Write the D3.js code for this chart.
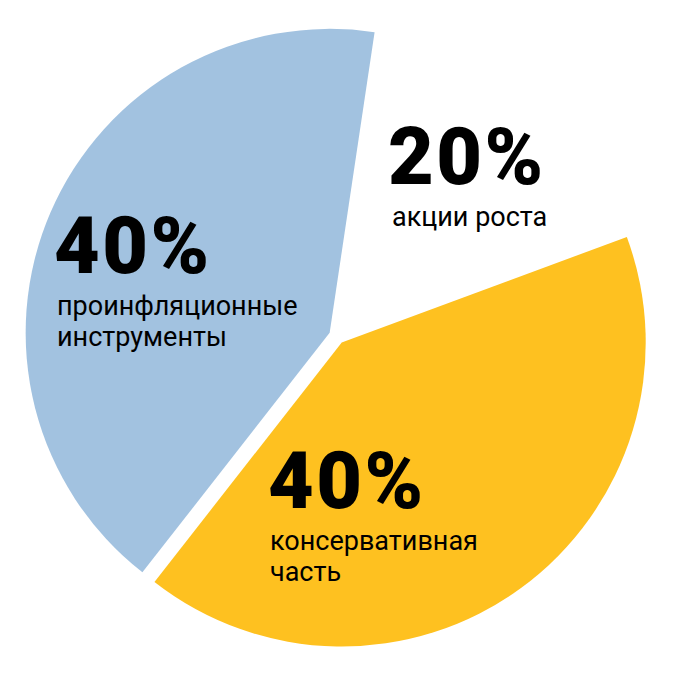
<!DOCTYPE html>
<html>
<head>
<meta charset="utf-8">
<script src="https://cdn.jsdelivr.net/npm/d3@7/dist/d3.min.js"></script>
<style>
  html, body { margin: 0; padding: 0; background: #ffffff; }
  svg { display: block; }
</style>
</head>
<body>
<svg id="chart" width="676" height="673"></svg>
<script>
// ---- data ----
const categories = ["акции роста", "консервативная часть", "проинфляционные инструменты"];
const percentLabels = ["20%", "40%", "40%"];
// slice sizes as drawn in the picture (share of the full circle, %)
const drawnShares = [17.0, 41.2, 41.8];
const colors = ["#ffffff", "#fec120", "#a2c2e0"];
// label lines per category
const labelLines = [["акции роста"], ["консервативная", "часть"], ["проинфляционные", "инструменты"]];

// ---- layout ----
const W = 676, H = 673;
const cx = 337, cy = 336, R = 304, explode = 8;
const startDeg = 8.5;
const labelPos = [ {x: 388, y: 184, lx: 392}, {x: 268, y: 508, lx: 270}, {x: 54, y: 273, lx: 57} ];

const svg = d3.select("#chart");
const pie = d3.pie().sort(null).value(d => d)
  .startAngle(startDeg * Math.PI / 180)
  .endAngle(startDeg * Math.PI / 180 + 2 * Math.PI);
const arc = d3.arc().innerRadius(0).outerRadius(R);
const arcs = pie(drawnShares);

svg.append("g").selectAll("path").data(arcs).join("path")
  .attr("d", arc)
  .attr("fill", (d, i) => colors[i])
  .attr("transform", d => {
    const m = (d.startAngle + d.endAngle) / 2;
    return `translate(${cx + explode * Math.sin(m)},${cy - explode * Math.cos(m)})`;
  });

const lg = svg.append("g");
arcs.forEach((d, i) => {
  const p = labelPos[i];
  lg.append("text")
    .attr("x", p.x).attr("y", p.y)
    .attr("font-family", "Roboto, 'Noto Sans', sans-serif")
    .attr("font-weight", 900)
    .attr("font-size", 79)
    .attr("letter-spacing", 2.5)
    .attr("fill", "#000")
    .text(percentLabels[i]);
  labelLines[i].forEach((line, j) => {
    lg.append("text")
      .attr("x", p.lx).attr("y", p.y + 42 + j * 31)
      .attr("font-family", "Roboto, 'Noto Sans', sans-serif")
      .attr("font-weight", 400)
      .attr("font-size", 27)
      .attr("fill", "#000")
      .text(line);
  });
});
</script>
</body>
</html>
